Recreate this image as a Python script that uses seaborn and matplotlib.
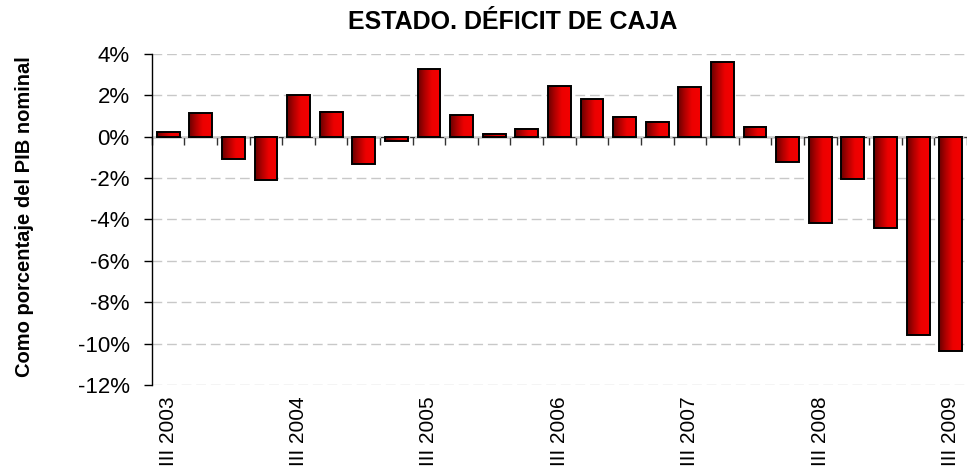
import numpy as np
import matplotlib
matplotlib.use("Agg")
import matplotlib.pyplot as plt
import seaborn as sns
from matplotlib.colors import LinearSegmentedColormap
from matplotlib.ticker import FuncFormatter, NullFormatter

# ----------------------------
# Data (% of nominal GDP)
# ----------------------------
quarters = ["III 2003", "IV 2003",
            "I 2004", "II 2004", "III 2004", "IV 2004",
            "I 2005", "II 2005", "III 2005", "IV 2005",
            "I 2006", "II 2006", "III 2006", "IV 2006",
            "I 2007", "II 2007", "III 2007", "IV 2007",
            "I 2008", "II 2008", "III 2008", "IV 2008",
            "I 2009", "II 2009", "III 2009"]
deficit = [0.21, 1.13,
           -1.10, -2.09, 2.02, 1.21,
           -1.33, -0.19, 3.27, 1.05,
           0.15, 0.39, 2.44, 1.81,
           0.97, 0.73, 2.38, 3.62,
           0.49, -1.21, -4.15, -2.02,
           -4.42, -9.60, -10.36]
shown_labels = ["III 2003", "III 2004", "III 2005", "III 2006",
                "III 2007", "III 2008", "III 2009"]
yticks = [-12, -10, -8, -6, -4, -2, 0, 2, 4]

# ----------------------------
# Style
# ----------------------------
sns.set_style("white")
plt.rcParams["font.family"] = ["Liberation Sans", "DejaVu Sans"]
plt.rcParams["text.color"] = "black"
plt.rcParams["xtick.color"] = "black"
plt.rcParams["ytick.color"] = "black"
plt.rcParams["axes.labelcolor"] = "black"

fig, ax = plt.subplots(figsize=(9.67, 4.69), dpi=100)
fig.subplots_adjust(left=0.157, right=1.0, top=0.885, bottom=0.179)

sns.barplot(x=quarters, y=deficit, order=quarters, color="red", width=0.7,
            edgecolor="black", linewidth=1.4, ax=ax, zorder=3)

# horizontal dark-to-bright red gradient inside every bar
cmap = LinearSegmentedColormap.from_list(
    "redgrad", [(0, "#680000"), (0.3, "#b00000"), (0.6, "#ec0000"), (1, "#f40000")])
grad = np.linspace(0, 1, 256).reshape(1, -1)
for bar in ax.patches:
    x0, w = bar.get_x(), bar.get_width()
    y0, h = bar.get_y(), bar.get_height()
    ax.imshow(grad, extent=[x0, x0 + w, y0, y0 + h], aspect="auto",
              cmap=cmap, zorder=2.5, interpolation="bicubic")
    bar.set_facecolor("none")

ylim = (yticks[0], yticks[-1])
ax.set_xlim(-0.5, len(quarters) - 0.5)
ax.set_ylim(*ylim)
ax.set_aspect("auto")

# y axis
ax.set_yticks(yticks)
ax.yaxis.set_major_formatter(FuncFormatter(lambda v, p: f"{v:.0f}%"))
ax.tick_params(axis="y", direction="out", length=6, width=1, color="black",
               labelcolor="black", labelsize=16, pad=10, left=True)
ax.yaxis.grid(True, color="#c8c8c8", linestyle=(0, (7, 3.5)), linewidth=1)
ax.xaxis.grid(False)
ax.set_axisbelow(True)
for side in ["top", "right", "bottom"]:
    ax.spines[side].set_visible(False)
ax.spines["left"].set_color("black")
ax.spines["left"].set_linewidth(1)

# x labels at the bottom
ax.set_xticks([quarters.index(q) for q in shown_labels])
ax.set_xticklabels(shown_labels)
ax.tick_params(axis="x", length=0, labelsize=15, labelcolor="black",
               pad=8, labelrotation=90)
ax.set_xlabel("")

# zero line with category-boundary ticks
zero = (0 - ylim[0]) / (ylim[1] - ylim[0])
sec = ax.secondary_xaxis(zero)
sec.set_xticks(np.arange(-0.5, len(quarters), 1))
sec.xaxis.set_major_formatter(NullFormatter())
sec.tick_params(axis="x", direction="in", length=6, width=1, color="#333333",
                labeltop=False, labelbottom=False)
sec.spines["top"].set_color("#333333")
sec.spines["top"].set_linewidth(1)

ax.set_ylabel("Como porcentaje del PIB nominal", fontsize=14.5,
              fontweight="bold", color="black")
ax.yaxis.set_label_coords(-0.145, 0.508)

fig.text(0.53, 0.938, "ESTADO. DÉFICIT DE CAJA", fontsize=18,
         fontweight="bold", ha="center", va="baseline", color="black")

plt.savefig("out.png", dpi=100)
